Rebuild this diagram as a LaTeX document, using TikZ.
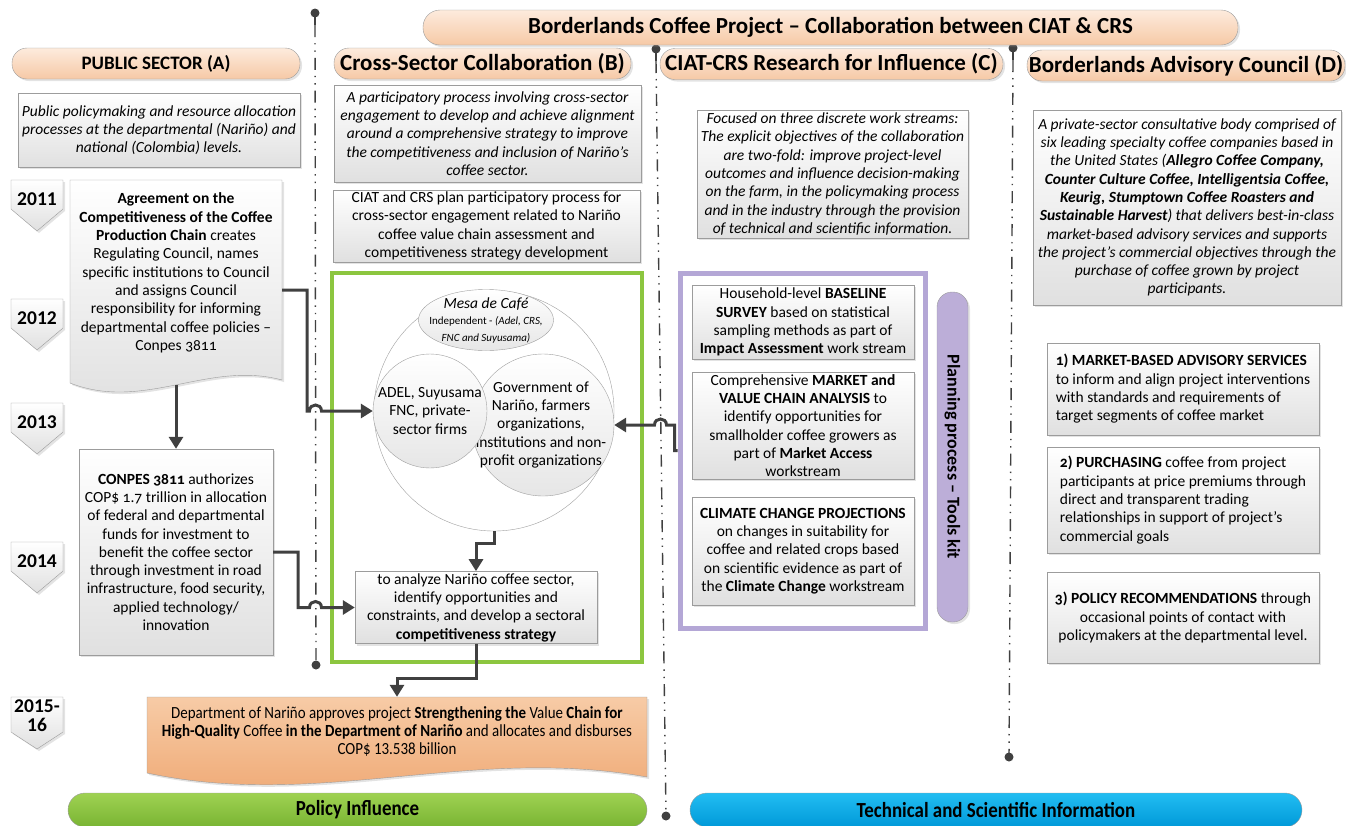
\documentclass[tikz,border=0pt]{standalone}
\usepackage{fontspec}
\setmainfont[Numbers=OldStyle]{Carlito}
\newfontfamily\narrowfont[FakeStretch=0.88]{Carlito}
\usetikzlibrary{arrows.meta,shapes.geometric,shadows}

\definecolor{peachtop}{HTML}{FDEBDD}
\definecolor{peachbot}{HTML}{F6C9A6}
\definecolor{boxline}{HTML}{9C9C9C}
\definecolor{boxbot}{HTML}{E0E0E0}
\definecolor{connline}{HTML}{404040}
\definecolor{greenframe}{HTML}{8CC63F}
\definecolor{purpleframe}{HTML}{B4A7D6}
\definecolor{toolfill}{HTML}{BCAED8}
\definecolor{orangetop}{HTML}{F7CBA6}
\definecolor{orangebot}{HTML}{EEA56F}
\definecolor{bluetop}{HTML}{22BDF2}
\definecolor{bluebot}{HTML}{0099D8}
\definecolor{greentop}{HTML}{9FD252}
\definecolor{greenbot}{HTML}{79B433}

\newcommand{\bodysize}{\fontsize{15.5}{18.3}\selectfont}

\tikzset{
  softshadow/.style={drop shadow={shadow xshift=2pt,shadow yshift=-2pt,opacity=0.22}},
  pill/.style={draw=boxline, rounded corners=15pt, top color=peachtop, bottom color=peachbot,
    minimum height=31pt, inner sep=0pt, font=\fontsize{23}{26}\selectfont\bfseries, softshadow},
  infobox/.style={draw=boxline, top color=white, bottom color=boxbot, inner sep=2pt,
    align=center, font=\bodysize, softshadow},
  italicbox/.style={infobox, font=\bodysize\itshape},
  leftbox/.style={infobox, align=left},
  docbox/.style={draw=boxline, top color=white, bottom color=boxbot, softshadow},
  deptbox/.style={draw=boxline, top color=orangetop, bottom color=orangebot, softshadow},
  plaintext/.style={inner sep=0pt, align=center, font=\bodysize},
  yearbox/.style={draw=boxline, top color=white, bottom color=boxbot, softshadow},
  yeartext/.style={inner sep=0pt, align=center,
    font=\fontsize{19.5}{19}\selectfont\bfseries\addfontfeature{Numbers=Lining}},
  bubble/.style={draw=gray!75, top color=white, bottom color=boxbot!80, inner sep=0pt},
  outerframe/.style={fill=white, inner sep=0pt, softshadow},
  conn/.style={draw=connline, line width=3pt, -{Triangle[length=12pt,width=14pt]}},
  guideline/.style={draw=connline, line width=1.4pt,
    dash pattern=on 12pt off 6pt on 1.4pt off 6pt on 1.4pt off 6pt},
  footbar/.style={draw=boxline, rounded corners=17pt, minimum height=34pt, inner sep=0pt,
    font=\narrowfont\fontsize{21.5}{24}\selectfont\bfseries},
}

\begin{document}
\begin{tikzpicture}[x=1pt,y=-1pt]
\useasboundingbox (0,0) rectangle (1346,825);

% column guides
\foreach \xa/\ya/\xb/\yb in {315/13/316/665, 656/49/666/816, 1013/48/1009/757} {
  \fill[connline] (\xa,\ya) circle (4.5pt);
  \draw[connline, line width=1.6pt] (\xa,\ya) -- (\xa,\ya+12);
  \draw[guideline] (\xa,\ya+12) -- (\xb,\yb);
  \fill[connline] (\xb,\yb) circle (4.5pt);
}

% headers
\node[pill, minimum width=815pt, minimum height=35pt, rounded corners=17pt] (title) at (830.5,27.5)
  {Borderlands Coffee Project – Collaboration between CIAT \& CRS};
\node[pill, minimum width=288pt, font=\fontsize{19}{22}\selectfont\bfseries] (secA) at (156,63.5) {PUBLIC SECTOR (A)};
\node[pill, minimum width=297pt] (secB) at (482.5,63.5) {Cross-Sector Collaboration (B)};
\node[pill, minimum width=343pt] (secC) at (831.5,64) {CIAT-CRS Research for Influence (C)};
\node[pill, minimum width=318pt] (secD) at (1186,65.5) {Borderlands Advisory Council (D)};

% public sector
\node[italicbox, minimum width=282pt, minimum height=74pt] (descA) at (159,130)
  {Public policymaking and resource allocation\\processes at the departmental (Nariño) and\\national (Colombia) levels.};

\foreach \yr/\yy in {2011/180, 2012/299, 2013/403, 2014/542} {
  \path[yearbox] (11,\yy) -- (63,\yy) -- (63,\yy+29) -- (37,\yy+51) -- (11,\yy+29) -- cycle;
  \node[yeartext] (year\yr) at (37,\yy+19) {\yr};
}
\path[yearbox] (11,697) -- (63,697) -- (63,732) -- (37,749) -- (11,732) -- cycle;
\node[yeartext] (year2015) at (37,716) {2015-\\16};

\path[docbox] (70,180) -- (282,180) -- (282,380) .. controls (208,360) and (144,412) .. (70,383) -- cycle;
\node[plaintext, minimum width=212pt] (agree) at (176,273)
  {\textbf{Agreement on the}\\\textbf{Competitiveness of the Coffee}\\\textbf{Production Chain} creates\\
   Regulating Council, names\\specific institutions to Council\\and assigns Council\\
   responsibility for informing\\departmental coffee policies –\\Conpes 3811};
\coordinate (agreebot) at (176,385);

\node[infobox, minimum width=194pt, minimum height=206pt] (conpes) at (176,552)
  {\textbf{CONPES 3811} authorizes\\COP\$ 1.7 trillion in allocation\\of federal and departmental\\
   funds for investment to\\benefit the coffee sector\\through investment in road\\
   infrastructure, food security,\\applied technology/\\innovation};

% cross-sector collaboration
\node[italicbox, minimum width=307pt, minimum height=97pt] (descB) at (487.5,133.5)
  {A participatory process involving cross-sector\\engagement to develop and achieve alignment\\
   around a comprehensive strategy to improve\\the competitiveness and inclusion of Nariño’s\\coffee sector.};
\node[infobox, minimum width=307pt, minimum height=72pt] (planB) at (486.5,226)
  {CIAT and CRS plan participatory process for\\cross-sector engagement related to Nariño\\
   coffee value chain assessment and\\competitiveness strategy development};

\node[outerframe, draw=greenframe, line width=4pt, minimum width=310pt, minimum height=389pt] (collab) at (487,467.5) {};
\node[bubble, circle, minimum size=240pt, top color=white, bottom color=white] (mesaring) at (494,411) {};
\node[bubble, circle, minimum size=142pt] (gov) at (543,425) {};
\node[plaintext] (govtext) at (541,425)
  {Government of\\Nariño, farmers\\organizations,\\institutions and non-\\profit organizations};
\node[bubble, circle, minimum size=114pt] (adel) at (430,411) {};
\node[plaintext] (adeltext) at (430,411) {ADEL, Suyusama\\FNC, private-\\sector firms};
\node[bubble, ellipse, minimum width=135pt, minimum height=61pt] (mesa) at (486,320) {};
\node[plaintext, font=\fontsize{11}{16.5}\selectfont] (mesatext) at (486,320)
  {{\fontsize{15.5}{16.5}\selectfont\itshape Mesa de Café}\\Independent - \textit{(Adel, CRS,}\\\textit{FNC and Suyusama)}};

\node[infobox, minimum width=242pt, minimum height=71pt] (analyze) at (476,607.5)
  {to analyze Nariño coffee sector,\\identify opportunities and\\constraints, and develop a sectoral\\
   \textbf{competitiveness strategy}};

\path[deptbox] (147,697) -- (647,697) -- (647,777) .. controls (470,745) and (320,810) .. (147,773) -- cycle;
\node[plaintext, font=\narrowfont\fontsize{17}{18}\selectfont, minimum width=500pt, minimum height=68pt] (dept) at (397,731)
  {Department of Nariño approves project \textbf{Strengthening the} Value \textbf{Chain for}\\
   \textbf{High-Quality} Coffee \textbf{in the Department of Nariño} and allocates and disburses\\COP\$ 13.538 billion};

% research for influence
\node[italicbox, minimum width=271pt, minimum height=128pt] (descC) at (832.5,174)
  {Focused on three discrete work streams:\\The explicit objectives of the collaboration\\
   are two-fold: improve project-level\\outcomes and influence decision-making\\
   on the farm, in the policymaking process\\and in the industry through the provision\\
   of technical and scientific information.};

\node[outerframe, draw=purpleframe, line width=5pt, minimum width=245pt, minimum height=355pt] (toolframe) at (802.5,450.5) {};
\node[infobox, minimum width=222pt, minimum height=74pt] (baseline) at (803,322)
  {Household-level \textbf{BASELINE}\\\textbf{SURVEY} based on statistical\\sampling methods as part of\\
   \textbf{Impact Assessment} work stream};
\node[infobox, minimum width=222pt, minimum height=107pt] (market) at (803,425.5)
  {Comprehensive \textbf{MARKET and}\\\textbf{VALUE CHAIN ANALYSIS} to\\identify opportunities for\\
   smallholder coffee growers as\\part of \textbf{Market Access}\\workstream};
\node[infobox, minimum width=222pt, minimum height=108pt] (climate) at (803,551)
  {\textbf{CLIMATE CHANGE PROJECTIONS}\\on changes in suitability for\\coffee and related crops based\\
   on scientific evidence as part of\\the \textbf{Climate Change} workstream};
\node[draw=boxline, fill=toolfill, rounded corners=15pt, rotate=-90, minimum width=330pt, minimum height=31pt,
  inner sep=0pt, font=\fontsize{18}{20}\selectfont\bfseries, softshadow] (tools) at (952.5,457)
  {Planning process – Tools kit};

% advisory council
\node[italicbox, minimum width=308pt, minimum height=195pt] (descD) at (1187,207.5)
  {A private-sector consultative body comprised of\\six leading specialty coffee companies based in\\
   the United States (\textbf{Allegro Coffee Company,}\\\textbf{Counter Culture Coffee, Intelligentsia Coffee,}\\
   \textbf{Keurig, Stumptown Coffee Roasters and}\\\textbf{Sustainable Harvest}) that delivers best-in-class\\
   market-based advisory services and supports\\the project’s commercial objectives through the\\
   purchase of coffee grown by project\\participants.};
\node[leftbox, minimum width=272pt, minimum height=92pt] (advise) at (1183,389)
  {\textbf{1) MARKET-BASED ADVISORY SERVICES}\\to inform and align project interventions\\
   with standards and requirements of\\target segments of coffee market};
\node[leftbox, minimum width=272pt, minimum height=106pt] (purchase) at (1183,500)
  {\textbf{2) PURCHASING} coffee from project\\participants at price premiums through\\
   direct and transparent trading\\relationships in support of project’s\\commercial goals};
\node[infobox, minimum width=272pt, minimum height=91pt] (policyrec) at (1183,617.5)
  {\textbf{3) POLICY RECOMMENDATIONS} through\\occasional points of contact with\\
   policymakers at the departmental level.};

% connectors
\draw[conn] ([yshift=-17pt]agree.east) -- (307,290) -- (307,411) -- (309.5,411)
  .. controls (309.5,403) and (321.5,403) .. (321.5,411) -- (adel.west);
\draw[conn] (agreebot) -- (conpes.north);
\draw[conn] (conpes.east) -- (298,552) -- (298,607.5) -- (309.5,607.5)
  .. controls (309.5,599.5) and (321.5,599.5) .. (321.5,607.5) -- (analyze.west);
\draw[conn] (mesaring.south) -- ++(0,12) -| (analyze.north);
\draw[conn] (analyze.south) -- ++(0,35) -| (dept.north);
\draw[conn] (toolframe.west) -- ++(-3,0) |- (666.5,425)
  .. controls (666.5,417) and (654.5,417) .. (654.5,425) -- (gov.east);

% footer bars
\node[footbar, top color=greentop, bottom color=greenbot, minimum width=579pt] (policy) at (357.5,810) {Policy Influence};
\node[footbar, top color=bluetop, bottom color=bluebot, minimum width=612pt] (techinfo) at (996,810) {Technical and Scientific Information};
\end{tikzpicture}
\end{document}
